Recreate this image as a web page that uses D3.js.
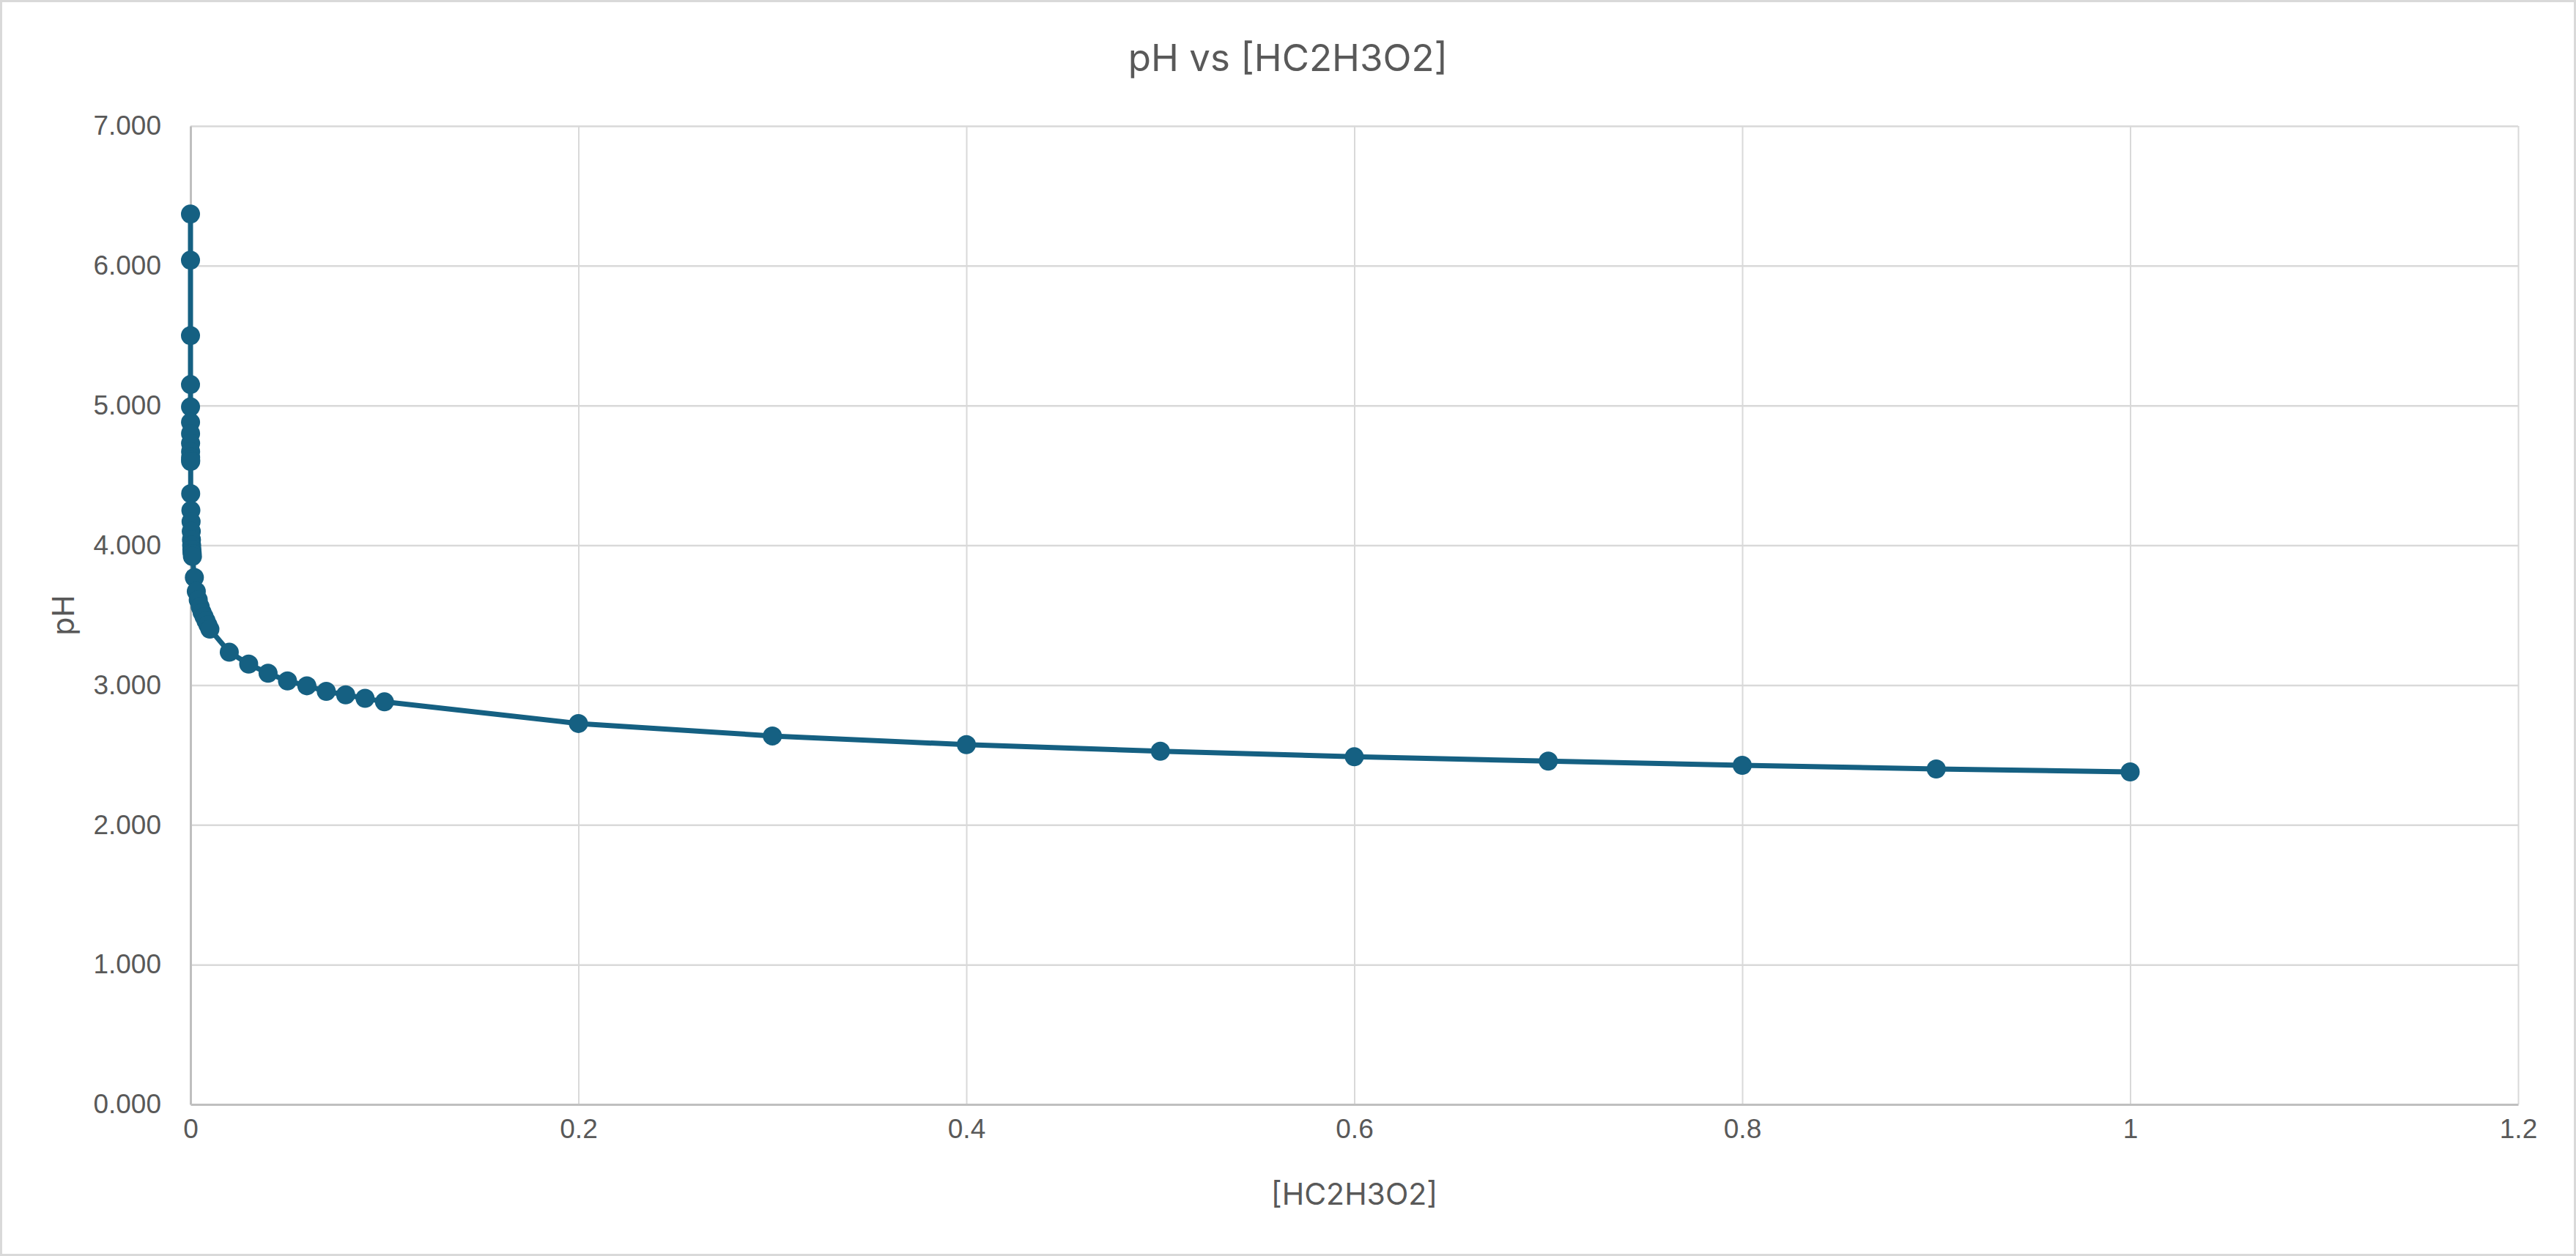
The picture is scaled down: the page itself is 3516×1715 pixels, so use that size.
<!DOCTYPE html>
<html>
<head>
<meta charset="utf-8">
<script src="https://cdn.jsdelivr.net/npm/d3@7.9.0/dist/d3.min.js"></script>
<style>
  body { margin: 0; background: #fff; }
  svg { display: block; font-family: Inter, "Open Sans", sans-serif; }
</style>
</head>
<body>
<svg id="chart"></svg>
<script>
// [HC2H3O2] concentrations (M) and the measured/calculated pH
const concentration = [
  0.0000005, 0.000001, 0.000005,
  0.00001, 0.00002, 0.00003, 0.00004, 0.00005, 0.00006, 0.00007, 0.00008, 0.00009,
  0.0001, 0.0002, 0.0003, 0.0004, 0.0005, 0.0006, 0.0007, 0.0008, 0.0009,
  0.001, 0.002, 0.003, 0.004, 0.005, 0.006, 0.007, 0.008, 0.009, 0.01,
  0.02, 0.03, 0.04, 0.05, 0.06, 0.07, 0.08, 0.09, 0.1,
  0.2, 0.3, 0.4, 0.5, 0.6, 0.7, 0.8, 0.9, 1.0
];
const pH = [
  6.37, 6.04, 5.50,
  5.15, 4.99, 4.88, 4.80, 4.73, 4.67, 4.63, 4.61, 4.60,
  4.37, 4.25, 4.17, 4.10, 4.04, 4.00, 3.97, 3.95, 3.94,
  3.92, 3.77, 3.67, 3.61, 3.56, 3.52, 3.49, 3.46, 3.43, 3.40,
  3.235, 3.15, 3.085, 3.03, 2.995, 2.955, 2.93, 2.905, 2.88,
  2.725, 2.636, 2.574, 2.527, 2.487, 2.456, 2.426, 2.40, 2.379
];
const xTicks = [0, 0.2, 0.4, 0.6, 0.8, 1, 1.2];
const xTickLabels = ['0', '0.2', '0.4', '0.6', '0.8', '1', '1.2'];
const yTicks = [0, 1, 2, 3, 4, 5, 6, 7];
const yTickLabels = ['0.000', '1.000', '2.000', '3.000', '4.000', '5.000', '6.000', '7.000'];

const W = 3516, H = 1715;
const plot = { left: 260, right: 3437, top: 172, bottom: 1508 };
const ink = '#156082';
const textColor = '#595959';

const svg = d3.select('#chart').attr('width', W).attr('height', H);

// chart area border
svg.append('rect')
  .attr('x', 1.5).attr('y', 1.5)
  .attr('width', W - 3).attr('height', H - 3)
  .attr('fill', '#fff').attr('stroke', '#d9d9d9').attr('stroke-width', 3);

const x = d3.scaleLinear().domain([0, 1.2]).range([plot.left, plot.right]);
const y = d3.scaleLinear().domain([0, 7]).range([plot.bottom, plot.top]);

// vertical gridlines
svg.append('g')
  .attr('transform', `translate(0,${plot.bottom})`)
  .call(d3.axisBottom(x).tickValues(xTicks.slice(1)).tickSize(-(plot.bottom - plot.top)).tickFormat(''))
  .call(g => g.select('.domain').remove())
  .call(g => g.selectAll('line').attr('stroke', '#d9d9d9').attr('stroke-width', 2));

// horizontal gridlines
svg.append('g')
  .attr('transform', `translate(${plot.left},0)`)
  .call(d3.axisLeft(y).tickValues(yTicks.slice(1)).tickSize(-(plot.right - plot.left)).tickFormat(''))
  .call(g => g.select('.domain').remove())
  .call(g => g.selectAll('line').attr('stroke', '#d9d9d9').attr('stroke-width', 2.5));

// x axis
const xAxis = svg.append('g')
  .attr('transform', `translate(0,${plot.bottom})`)
  .call(d3.axisBottom(x).tickValues(xTicks).tickSize(0).tickPadding(46)
    .tickFormat((d, i) => xTickLabels[i]));
xAxis.select('.domain').attr('stroke', '#bfbfbf').attr('stroke-width', 3);
xAxis.selectAll('text').attr('fill', textColor).attr('font-size', 37).attr('dy', 0);

// y axis
const yAxis = svg.append('g')
  .attr('transform', `translate(${plot.left},0)`)
  .call(d3.axisLeft(y).tickValues(yTicks).tickSize(0).tickPadding(40)
    .tickFormat((d, i) => yTickLabels[i]));
yAxis.select('.domain').attr('stroke', '#bfbfbf').attr('stroke-width', 3);
yAxis.selectAll('text').attr('fill', textColor).attr('font-size', 37);

const data = concentration.map((c, i) => ({ c, p: pH[i] }));

const line = d3.line().x(d => x(d.c)).y(d => y(d.p));

svg.append('path')
  .datum(data)
  .attr('d', line)
  .attr('fill', 'none')
  .attr('stroke', ink)
  .attr('stroke-width', 7)
  .attr('stroke-linejoin', 'round');

svg.append('g')
  .selectAll('circle')
  .data(data)
  .join('circle')
  .attr('cx', d => x(d.c))
  .attr('cy', d => y(d.p))
  .attr('r', 13)
  .attr('fill', ink);

// titles
svg.append('text')
  .attr('x', W / 2)
  .attr('y', 97)
  .attr('text-anchor', 'middle')
  .attr('font-size', 51)
  .attr('fill', textColor)
  .text('pH vs [HC2H3O2]');

svg.append('text')
  .attr('x', (plot.left + plot.right) / 2)
  .attr('y', 1645)
  .attr('text-anchor', 'middle')
  .attr('font-size', 41)
  .attr('fill', textColor)
  .text('[HC2H3O2]');

svg.append('text')
  .attr('transform', `translate(101,${(plot.top + plot.bottom) / 2}) rotate(-90)`)
  .attr('text-anchor', 'middle')
  .attr('font-size', 41)
  .attr('fill', textColor)
  .text('pH');
</script>
</body>
</html>
